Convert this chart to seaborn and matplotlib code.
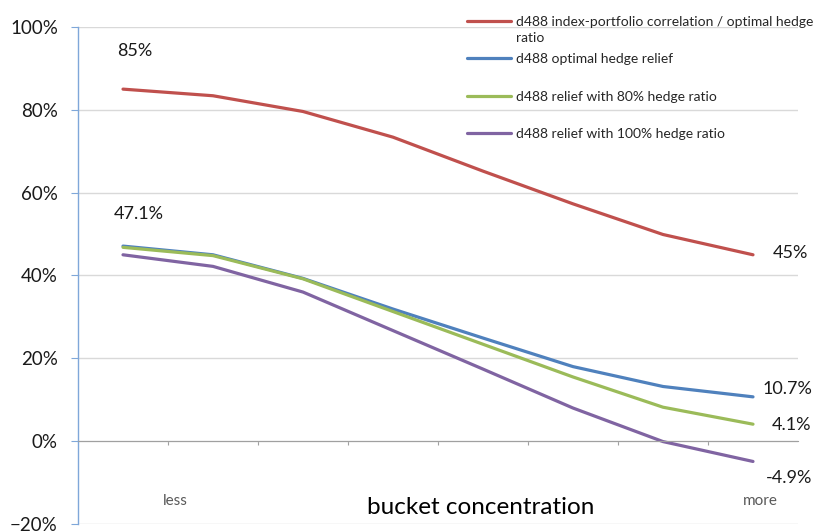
import numpy as np
import pandas as pd
import matplotlib
matplotlib.use("Agg")
import matplotlib.pyplot as plt
from matplotlib.ticker import PercentFormatter, FixedLocator
import seaborn as sns

# data (8 concentration buckets, less -> more)
buckets = list(range(8))
correlation = [0.85, 0.834, 0.796, 0.734, 0.652, 0.573, 0.499, 0.45]
optimal_relief = [0.471, 0.450, 0.393, 0.319, 0.249, 0.180, 0.132, 0.107]
relief_80 = [0.468, 0.448, 0.392, 0.313, 0.234, 0.155, 0.082, 0.041]
relief_100 = [0.450, 0.422, 0.360, 0.267, 0.174, 0.080, -0.001, -0.049]

# the first legend entry wraps onto a second line ("ratio") in the original
series_names = [
    "d488 index-portfolio correlation / optimal hedge",
    "d488 optimal hedge relief",
    "d488 relief with 80% hedge ratio",
    "d488 relief with 100% hedge ratio",
]
wrap_tail = "ratio"
colors = ["#C0504D", "#4F81BD", "#9BBB59", "#8064A2"]
yticks = [-0.2, 0.0, 0.2, 0.4, 0.6, 0.8, 1.0]

df = pd.concat([
    pd.DataFrame({"bucket": buckets, "value": vals, "series": name})
    for name, vals in zip(series_names, [correlation, optimal_relief, relief_80, relief_100])
])

sns.set_style("white")
plt.rcParams["font.family"] = ["Lato", "DejaVu Sans"]

fig, ax = plt.subplots(figsize=(8.21, 5.31), dpi=100)
fig.subplots_adjust(left=78 / 821, right=798 / 821, bottom=7 / 531, top=1 - 27 / 531)

sns.lineplot(data=df, x="bucket", y="value", hue="series", palette=colors,
             linewidth=2.3, ax=ax, legend=True)

ax.set_xlim(-0.5, 7.5)
ax.set_ylim(-0.2, 1.0)
ax.yaxis.set_major_locator(FixedLocator(yticks))
ax.yaxis.set_major_formatter(PercentFormatter(1.0, decimals=0))
ax.grid(axis="y", color="#D9D9D9", linewidth=1)
ax.set_axisbelow(True)

# y axis
for s in ["top", "right"]:
    ax.spines[s].set_visible(False)
ax.spines["left"].set_color("#7FA7D9")
ax.spines["left"].set_linewidth(1)
ax.tick_params(axis="y", direction="out", length=5, color="#7FA7D9",
               labelsize=13.5, labelcolor="#1a1a1a", pad=9.5, left=True)

# x axis sits on the zero line
ax.spines["bottom"].set_position(("data", 0))
ax.spines["bottom"].set_color("#A0A0A0")
ax.set_xticks([b + 0.5 for b in buckets[:-1]])
ax.set_xticklabels([])
ax.tick_params(axis="x", direction="out", length=3, color="#A0A0A0", bottom=True)
ax.set_xlabel("")
ax.set_ylabel("")

trans = ax.get_xaxis_transform()
ax.text(0.58, 0.046, "less", transform=trans, ha="center", va="center",
        fontsize=11, color="#595959")
ax.text(7.08, 0.046, "more", transform=trans, ha="center", va="center",
        fontsize=11, color="#595959")
ax.text(3.97, 0.034, "bucket concentration", transform=trans, ha="center",
        va="center", fontsize=17.5, color="black")

# value labels at both ends
lab = dict(fontsize=13, color="#1a1a1a", textcoords="offset points")
ax.annotate(f"{correlation[0]:.0%}", (0, correlation[0]), xytext=(8.5, 27.5), ha="center", va="center", **lab)
ax.annotate(f"{optimal_relief[0]:.1%}", (0, optimal_relief[0]), xytext=(11.5, 23), ha="center", va="center", **lab)
ax.annotate(f"{correlation[-1]:.0%}", (7, correlation[-1]), xytext=(14, 1), ha="left", va="center", **lab)
ax.annotate(f"{optimal_relief[-1]:.1%}", (7, optimal_relief[-1]), xytext=(6.5, 5.5), ha="left", va="center", **lab)
ax.annotate(f"{relief_80[-1]:.1%}", (7, relief_80[-1]), xytext=(13.7, -0.5), ha="left", va="center", **lab)
ax.annotate(f"{relief_100[-1]:.1%}", (7, relief_100[-1]), xytext=(9.4, -12), ha="left", va="center", **lab)

leg = ax.legend(loc="upper left", bbox_to_anchor=(461 / 821, 1 - 10 / 531),
                bbox_transform=fig.transFigure, frameon=False, fontsize=10,
                handlelength=3.2, handletextpad=0.36, labelspacing=1.84,
                borderaxespad=0)
for t in leg.get_texts():
    t.set_color("#262626")

# second line of the wrapped first legend label
fig.canvas.draw()
bb = leg.get_texts()[0].get_window_extent()
fig.text(bb.x0 / fig.bbox.width, (bb.y0 - 16) / fig.bbox.height, wrap_tail,
         ha="left", va="bottom", fontsize=10, color="#262626")

fig.savefig("out.png", dpi=100)
